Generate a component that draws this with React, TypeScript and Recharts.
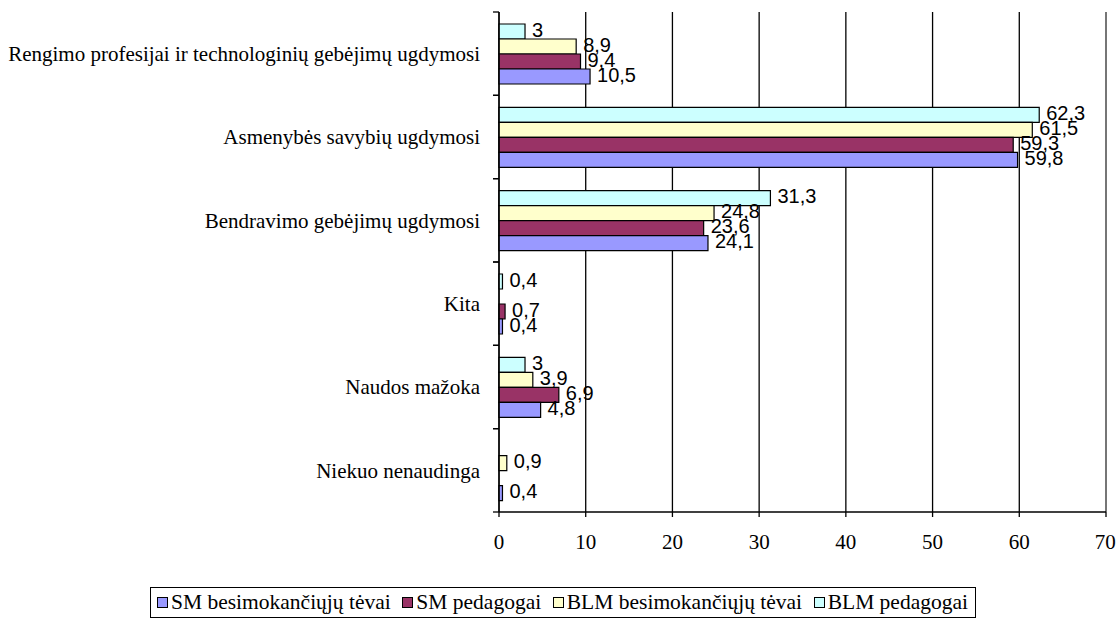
import React from 'react';
import { BarChart, Bar, XAxis, YAxis, CartesianGrid, LabelList, ReferenceLine } from 'recharts';

const categories = [
  'Rengimo profesijai ir technologinių gebėjimų ugdymosi',
  'Asmenybės savybių ugdymosi',
  'Bendravimo gebėjimų ugdymosi',
  'Kita',
  'Naudos mažoka',
  'Niekuo nenaudinga',
];
const smTevai: (number | null)[] = [10.5, 59.8, 24.1, 0.4, 4.8, 0.4];
const smPedagogai: (number | null)[] = [9.4, 59.3, 23.6, 0.7, 6.9, null];
const blmTevai: (number | null)[] = [8.9, 61.5, 24.8, null, 3.9, 0.9];
const blmPedagogai: (number | null)[] = [3, 62.3, 31.3, 0.4, 3, null];
const xTicks = [0, 10, 20, 30, 40, 50, 60, 70];

const seriesNames = ['SM besimokančiųjų tėvai', 'SM pedagogai', 'BLM besimokančiųjų tėvai', 'BLM pedagogai'];
const seriesColors = ['#9999FF', '#993366', '#FFFFCC', '#CCFFFF'];

const data = categories.map((name, i) => ({
  name,
  smTevai: smTevai[i],
  smPedagogai: smPedagogai[i],
  blmTevai: blmTevai[i],
  blmPedagogai: blmPedagogai[i],
}));

const W = 1117;
const H = 620;
const M_TOP = 12;
const M_BOTTOM = 58;
const X_H = 50;
const PLOT_H = H - M_TOP - M_BOTTOM - X_H;

const YTick = (props: any) => {
  const { x, y, payload } = props;
  const half = PLOT_H / categories.length / 2;
  return (
    <g>
      <line x1={x - 6} x2={x} y1={y - half} y2={y - half} stroke="#000" strokeWidth={1.3} />
      <line x1={x - 6} x2={x} y1={y + half} y2={y + half} stroke="#000" strokeWidth={1.3} />
      <text x={x - 19} y={y} dy="0.35em" textAnchor="end" fontFamily="'Liberation Serif', serif" fontSize={21} fill="#000">
        {payload.value}
      </text>
    </g>
  );
};

const fmt = (v: any) => (v == null ? '' : String(v).replace('.', ','));

const labelStyle = { fontFamily: "'Liberation Sans', Arial, sans-serif", fontSize: 20, fill: '#000' };

export default function App() {
  const barKeys = ['blmPedagogai', 'blmTevai', 'smPedagogai', 'smTevai'];
  const keyColor: Record<string, string> = {
    smTevai: seriesColors[0],
    smPedagogai: seriesColors[1],
    blmTevai: seriesColors[2],
    blmPedagogai: seriesColors[3],
  };
  const keyName: Record<string, string> = {
    smTevai: seriesNames[0],
    smPedagogai: seriesNames[1],
    blmTevai: seriesNames[2],
    blmPedagogai: seriesNames[3],
  };
  return (
    <div style={{ position: 'absolute', left: 0, top: 0, width: W, height: H, background: '#fff' }}>
      <BarChart
        width={W}
        height={H}
        data={data}
        layout="vertical"
        margin={{ top: M_TOP, right: 11, left: 0, bottom: M_BOTTOM }}
        barSize={15}
        barGap={0}
      >
        <CartesianGrid horizontal={false} stroke="#000" strokeWidth={1.3} />
        <ReferenceLine x={70} stroke="#808080" strokeWidth={1.5} />
        <XAxis
          type="number"
          domain={[0, 70]}
          ticks={xTicks}
          height={X_H}
          tickSize={5}
          tickMargin={17}
          axisLine={{ stroke: '#000', strokeWidth: 1.3 }}
          tickLine={{ stroke: '#000', strokeWidth: 1.3 }}
          tick={{ fontFamily: "'Liberation Serif', serif", fontSize: 21, fill: '#000' }}
        />
        <YAxis
          type="category"
          dataKey="name"
          width={499}
          tickSize={0}
          tickMargin={0}
          tickLine={false}
          axisLine={{ stroke: '#000', strokeWidth: 1.3 }}
          tick={<YTick />}
          interval={0}
        />
        {barKeys.map((k) => (
          <Bar key={k} dataKey={k} name={keyName[k]} fill={keyColor[k]} stroke="#000" strokeWidth={1.2} isAnimationActive={false}>
            <LabelList dataKey={k} position="right" offset={7} formatter={fmt} style={labelStyle} dy={-2} />
          </Bar>
        ))}
      </BarChart>
      <div
        style={{
          position: 'absolute',
          left: 150,
          top: 587,
          width: 826,
          height: 31,
          boxSizing: 'border-box',
          border: '1px solid #000',
          display: 'flex',
          alignItems: 'center',
          justifyContent: 'space-between',
          paddingLeft: 6,
          paddingRight: 7,
          fontFamily: "'Liberation Serif', serif",
          fontSize: 21.5,
          color: '#000',
          whiteSpace: 'nowrap',
        }}
      >
        {seriesNames.map((n, i) => (
          <div key={n} style={{ display: 'flex', alignItems: 'center' }}>
            <span
              style={{
                display: 'inline-block',
                width: 9,
                height: 9,
                background: seriesColors[i],
                border: '1px solid #000',
                marginRight: 3,
              }}
            />
            <span>{n}</span>
          </div>
        ))}
      </div>
    </div>
  );
}
